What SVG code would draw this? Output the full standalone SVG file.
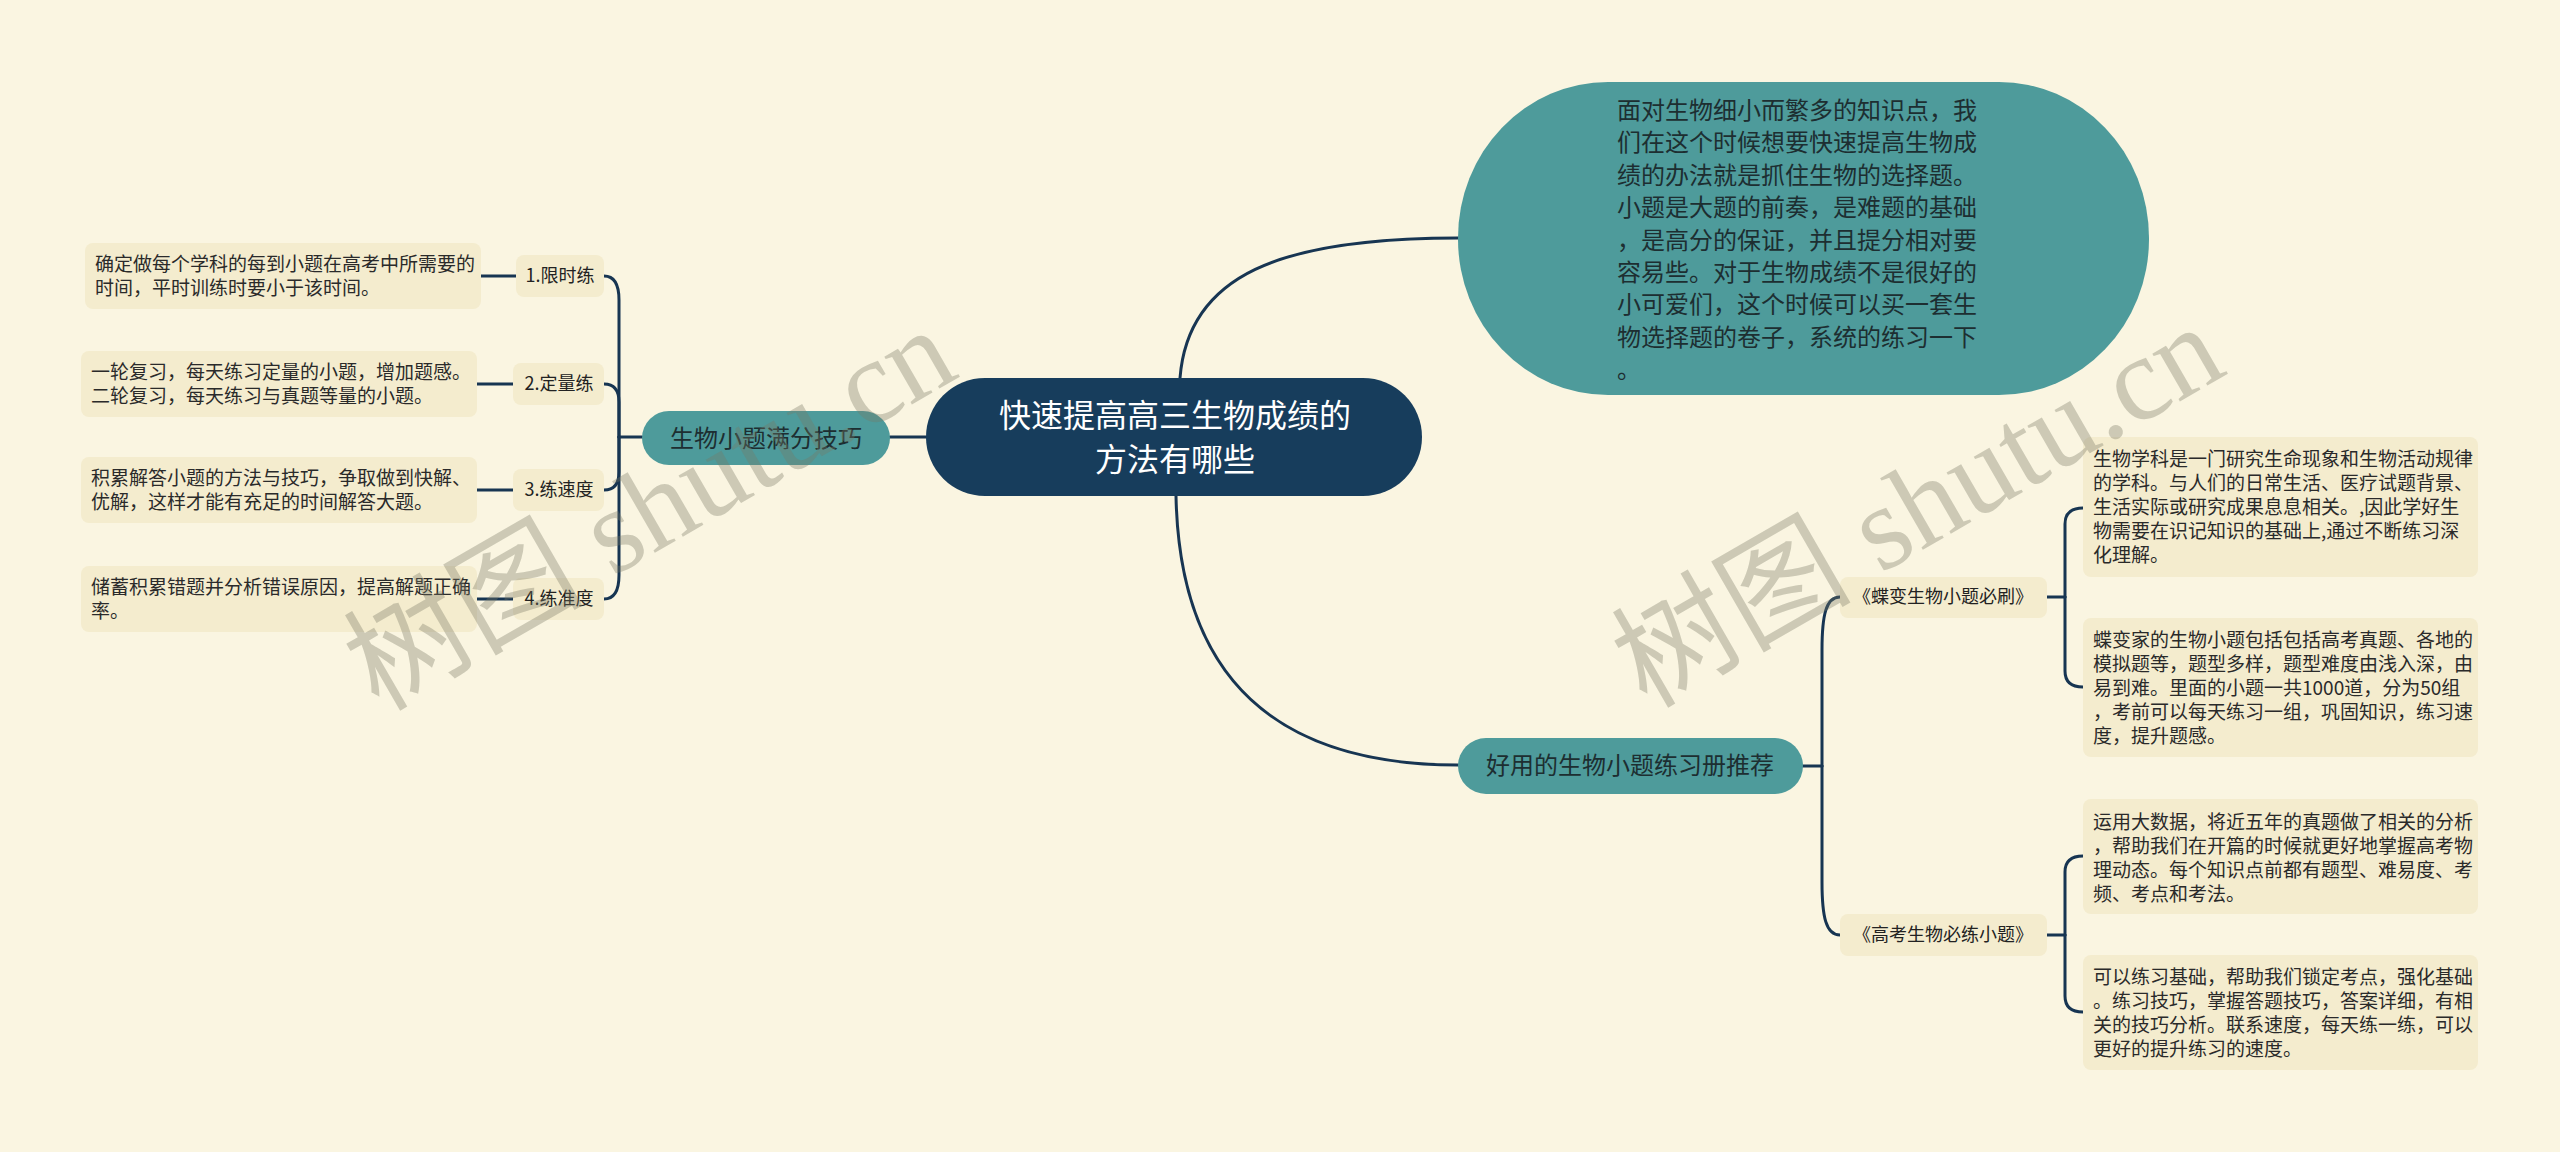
<svg xmlns="http://www.w3.org/2000/svg" width="2560" height="1152" viewBox="0 0 2560 1152">
<style>
.bg{fill:#faf5e1}
.conn{fill:none;stroke:#173552;stroke-width:3;stroke-linecap:round}
.central{fill:#173d5c}
.teal{fill:#4e9b9b}
.box{fill:#f4ecce}
.t{font-family:"Noto Sans CJK SC","Noto Sans",sans-serif}
.ct{font-size:32px;fill:#ffffff}
.tt{font-size:24px;fill:#1d2e31}
.lb{font-size:18px;fill:#222222}
.ds{font-size:19px;fill:#2a2a2a}
.wm{font-size:120px;fill:#787864;fill-opacity:0.35}
</style>
<rect class="bg" x="0" y="0" width="2560" height="1152"/>
<g id="connectors">
<path class="conn" d="M1180,378 C1188,275 1280,238 1458,238"/>
<path class="conn" d="M1176,496 C1180,700 1300,765 1458,765"/>
<path class="conn" d="M926,437 L890,437"/>
<path class="conn" d="M642,437 L619,437"/>
<path class="conn" d="M619,437 L619,300 Q619,276 604,276"/>
<path class="conn" d="M619,437 L619,402 Q619,384 604,384"/>
<path class="conn" d="M619,437 L619,472 Q619,490 604,490"/>
<path class="conn" d="M619,437 L619,575 Q619,599 604,599"/>
<path class="conn" d="M481,276 L516,276"/>
<path class="conn" d="M477,384 L513,384"/>
<path class="conn" d="M477,490 L513,490"/>
<path class="conn" d="M477,599 L513,599"/>
<path class="conn" d="M1803,766 L1822,766"/>
<path class="conn" d="M1822,766 L1822,650 C1822,615 1826,597 1840,597"/>
<path class="conn" d="M1822,766 L1822,882 C1822,917 1826,935 1840,935"/>
<path class="conn" d="M2047,597 L2065,597"/>
<path class="conn" d="M2065,597 L2065,524 Q2065,508 2083,508"/>
<path class="conn" d="M2065,597 L2065,671 Q2065,687 2083,687"/>
<path class="conn" d="M2047,935 L2065,935"/>
<path class="conn" d="M2065,935 L2065,872 Q2065,856 2083,856"/>
<path class="conn" d="M2065,935 L2065,996 Q2065,1012 2083,1012"/>
</g>
<g id="central">
<rect class="central" x="926" y="378" width="496" height="118" rx="59"/>
<text class="t ct" text-anchor="middle"><tspan x="1175" y="427">快速提高高三生物成绩的</tspan><tspan x="1175" y="471">方法有哪些</tspan></text>
</g>
<g id="intro">
<rect class="teal" x="1458" y="82" width="691" height="313" rx="150" ry="156"/>
<text class="t tt"><tspan x="1617" y="119">面对生物细小而繁多的知识点，我</tspan><tspan x="1617" y="151.4">们在这个时候想要快速提高生物成</tspan><tspan x="1617" y="183.8">绩的办法就是抓住生物的选择题。</tspan><tspan x="1617" y="216.2">小题是大题的前奏，是难题的基础</tspan><tspan x="1617" y="248.6">，是高分的保证，并且提分相对要</tspan><tspan x="1617" y="281">容易些。对于生物成绩不是很好的</tspan><tspan x="1617" y="313.4">小可爱们，这个时候可以买一套生</tspan><tspan x="1617" y="345.8">物选择题的卷子，系统的练习一下</tspan><tspan x="1617" y="378.2">。</tspan></text>
</g>
<g id="skills">
<rect class="teal" x="642" y="411" width="248" height="54" rx="27"/>
<text class="t tt" x="766" y="447" text-anchor="middle">生物小题满分技巧</text>
</g>
<g id="skill1">
<rect class="box" x="516" y="255" width="88" height="42" rx="8"/>
<text class="t lb" x="560" y="282" text-anchor="middle">1.限时练</text>
</g>
<g id="skill1-desc">
<rect class="box" x="85" y="243" width="396" height="66" rx="8"/>
<text class="t ds"><tspan x="95" y="271">确定做每个学科的每到小题在高考中所需要的</tspan><tspan x="95" y="295">时间，平时训练时要小于该时间。</tspan></text>
</g>
<g id="skill2">
<rect class="box" x="513" y="363" width="91" height="42" rx="8"/>
<text class="t lb" x="559" y="390" text-anchor="middle">2.定量练</text>
</g>
<g id="skill2-desc">
<rect class="box" x="81" y="351" width="396" height="66" rx="8"/>
<text class="t ds"><tspan x="91" y="379">一轮复习，每天练习定量的小题，增加题感。</tspan><tspan x="91" y="403">二轮复习，每天练习与真题等量的小题。</tspan></text>
</g>
<g id="skill3">
<rect class="box" x="513" y="469" width="91" height="42" rx="8"/>
<text class="t lb" x="559" y="496" text-anchor="middle">3.练速度</text>
</g>
<g id="skill3-desc">
<rect class="box" x="81" y="457" width="396" height="66" rx="8"/>
<text class="t ds"><tspan x="91" y="485">积累解答小题的方法与技巧，争取做到快解、</tspan><tspan x="91" y="509">优解，这样才能有充足的时间解答大题。</tspan></text>
</g>
<g id="skill4">
<rect class="box" x="513" y="578" width="91" height="42" rx="8"/>
<text class="t lb" x="559" y="605" text-anchor="middle">4.练准度</text>
</g>
<g id="skill4-desc">
<rect class="box" x="81" y="566" width="396" height="66" rx="8"/>
<text class="t ds"><tspan x="91" y="594">储蓄积累错题并分析错误原因，提高解题正确</tspan><tspan x="91" y="618">率。</tspan></text>
</g>
<g id="books">
<rect class="teal" x="1458" y="738" width="345" height="56" rx="28"/>
<text class="t tt" x="1630" y="774" text-anchor="middle">好用的生物小题练习册推荐</text>
</g>
<g id="book1">
<rect class="box" x="1840" y="577" width="207" height="41" rx="8"/>
<text class="t lb" x="1943" y="603" text-anchor="middle">《蝶变生物小题必刷》</text>
</g>
<g id="book1-desc1">
<rect class="box" x="2083" y="437" width="395" height="140" rx="8"/>
<text class="t ds"><tspan x="2093" y="466">生物学科是一门研究生命现象和生物活动规律</tspan><tspan x="2093" y="490">的学科。与人们的日常生活、医疗试题背景、</tspan><tspan x="2093" y="514">生活实际或研究成果息息相关。,因此学好生</tspan><tspan x="2093" y="538">物需要在识记知识的基础上,通过不断练习深</tspan><tspan x="2093" y="562">化理解。</tspan></text>
</g>
<g id="book1-desc2">
<rect class="box" x="2083" y="618" width="395" height="139" rx="8"/>
<text class="t ds"><tspan x="2093" y="647">蝶变家的生物小题包括包括高考真题、各地的</tspan><tspan x="2093" y="671">模拟题等，题型多样，题型难度由浅入深，由</tspan><tspan x="2093" y="695">易到难。里面的小题一共1000道，分为50组</tspan><tspan x="2093" y="719">，考前可以每天练习一组，巩固知识，练习速</tspan><tspan x="2093" y="743">度，提升题感。</tspan></text>
</g>
<g id="book2">
<rect class="box" x="1840" y="914" width="207" height="42" rx="8"/>
<text class="t lb" x="1943" y="941" text-anchor="middle">《高考生物必练小题》</text>
</g>
<g id="book2-desc1">
<rect class="box" x="2083" y="799" width="395" height="115" rx="8"/>
<text class="t ds"><tspan x="2093" y="829">运用大数据，将近五年的真题做了相关的分析</tspan><tspan x="2093" y="853">，帮助我们在开篇的时候就更好地掌握高考物</tspan><tspan x="2093" y="877">理动态。每个知识点前都有题型、难易度、考</tspan><tspan x="2093" y="901">频、考点和考法。</tspan></text>
</g>
<g id="book2-desc2">
<rect class="box" x="2083" y="955" width="395" height="115" rx="8"/>
<text class="t ds"><tspan x="2093" y="984">可以练习基础，帮助我们锁定考点，强化基础</tspan><tspan x="2093" y="1008">。练习技巧，掌握答题技巧，答案详细，有相</tspan><tspan x="2093" y="1032">关的技巧分析。联系速度，每天练一练，可以</tspan><tspan x="2093" y="1056">更好的提升练习的速度。</tspan></text>
</g>
<g id="watermarks">
<text class="wm" font-family="'Liberation Serif','Noto Sans CJK SC',serif" text-anchor="middle" transform="translate(670,544) rotate(-30)">树图 shutu.cn</text>
<text class="wm" font-family="'Liberation Serif','Noto Sans CJK SC',serif" text-anchor="middle" transform="translate(1938,541) rotate(-30)">树图 shutu.cn</text>
</g>
</svg>
